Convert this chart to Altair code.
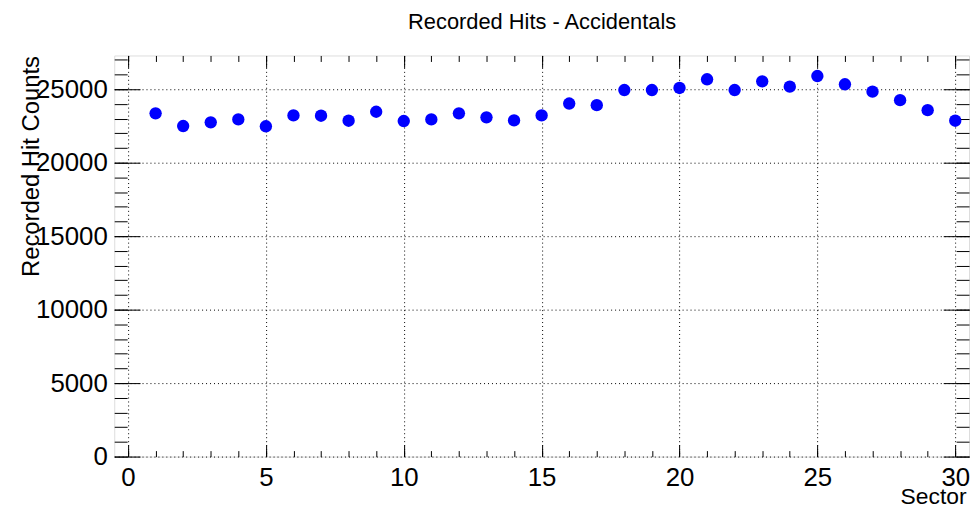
import altair as alt
import pandas as pd

sectors = list(range(1, 31))
hits = [23360, 22500, 22750, 22950, 22480, 23220, 23200, 22860, 23470, 22840,
        22950, 23360, 23090, 22880, 23220, 24030, 23920, 24950, 24950, 25090,
        25680, 24950, 25540, 25180, 25900, 25340, 24840, 24260, 23580, 22860]

x_major = [0, 5, 10, 15, 20, 25, 30]
x_minor = list(range(0, 31))
y_major = [0, 5000, 10000, 15000, 20000, 25000]
y_minor = list(range(0, 28000, 1000))
chart_title = ["Recorded Hits - Accidentals"]

df = pd.DataFrame({"Sector": sectors, "Hits": hits})

FONT = "Liberation Sans"
xs = alt.Scale(domain=[-0.5, 30.5], nice=False, zero=False)
ys = alt.Scale(domain=[0, 27300], nice=False)

base = alt.Chart(df)

main = base.mark_circle(size=155, color="#0000ff", opacity=1).encode(
    x=alt.X("Sector:Q", scale=xs, axis=alt.Axis(
        values=x_major, grid=True, gridColor="black", gridDash=[1, 3], gridWidth=1,
        ticks=False, domain=False, labelFont=FONT, labelFontSize=26,
        labelColor="black", labelPadding=8, format="d", labelFlush=False,
        title="Sector", titleFont=FONT, titleFontSize=23, titleFontWeight="normal",
        titleColor="black", titleX=858, titleY=47, titleAlign="right",
        titleBaseline="alphabetic", titleAnchor="end")),
    y=alt.Y("Hits:Q", scale=ys, axis=alt.Axis(
        values=y_major, grid=True, gridColor="black", gridDash=[1, 3], gridWidth=1,
        ticks=False, domain=False, labelFont=FONT, labelFontSize=26,
        labelColor="black", labelPadding=7, format="d", labelFlush=False,
        title="Recorded Hit Counts", titleFont=FONT, titleFontSize=24,
        titleFontWeight="normal", titleColor="black", titleX=-83, titleY=0,
        titleAngle=-90, titleAlign="right", titleBaseline="middle")),
)


def tick_layer(xorient, yorient, xvals, yvals, xlen, ylen):
    return base.mark_point(opacity=0).encode(
        x=alt.X("Sector:Q", scale=xs, axis=alt.Axis(
            orient=xorient, values=xvals, ticks=True, tickSize=xlen, offset=-xlen,
            tickColor="black", tickWidth=1, labels=False, domain=False,
            grid=False, title=None)),
        y=alt.Y("Hits:Q", scale=ys, axis=alt.Axis(
            orient=yorient, values=yvals, ticks=True, tickSize=ylen, offset=-ylen,
            tickColor="black", tickWidth=1, labels=False, domain=False,
            grid=False, title=None)),
    )


title_layer = alt.Chart(pd.DataFrame({"t": chart_title})).mark_text(
    font=FONT, fontSize=22, color="black", align="center", baseline="alphabetic"
).encode(text="t:N", x=alt.value(431), y=alt.value(-27))

layers = [
    main,
    tick_layer("bottom", "left", x_major, y_major, 12, 26),
    tick_layer("bottom", "left", x_minor, y_minor, 6, 13),
    tick_layer("top", "right", x_major, y_major, 12, 26),
    tick_layer("top", "right", x_minor, y_minor, 6, 13),
    title_layer,
]

chart = alt.layer(*layers).resolve_axis(x="independent", y="independent").properties(
    width=861, height=404,
    autosize=alt.AutoSizeParams(type="none"),
    padding={"left": 107, "top": 46, "right": 3, "bottom": 54},
).configure_view(stroke="black", strokeWidth=1.5).configure(background="white")

chart.save("out.html", embed_options={"renderer": "svg", "actions": False})
